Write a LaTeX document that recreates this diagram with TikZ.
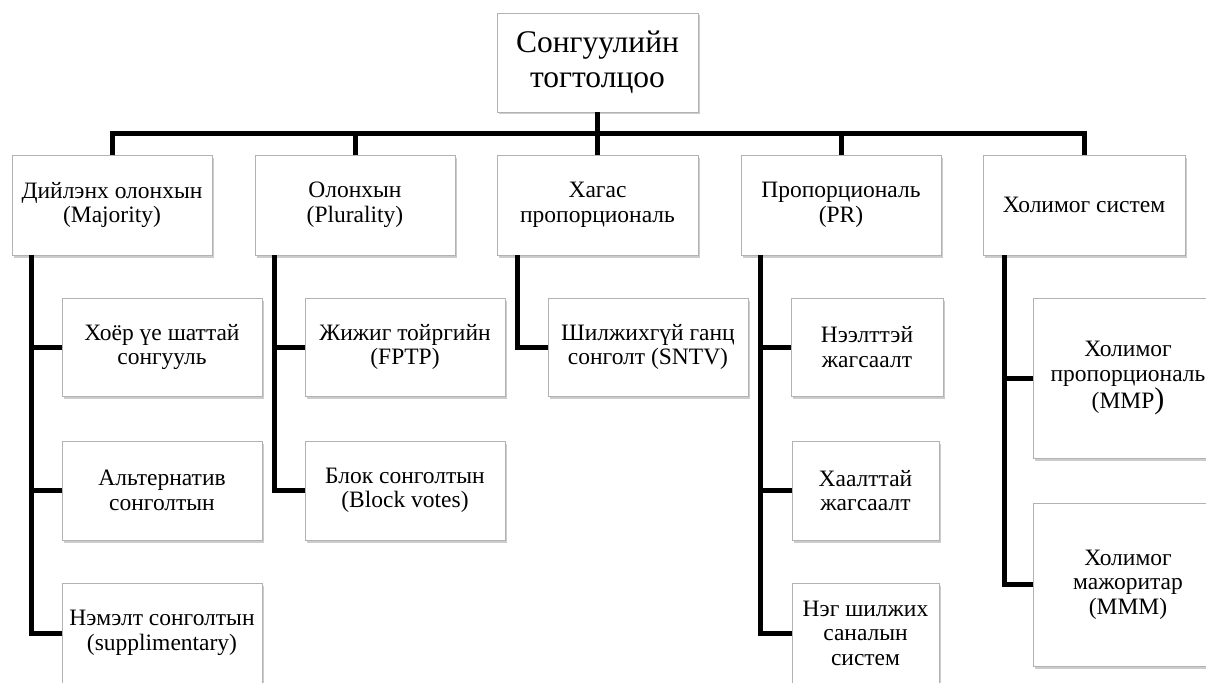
\documentclass[tikz,border=0pt]{standalone}
\usepackage{fontspec}
\setmainfont{Liberation Serif}
\usetikzlibrary{shadows,calc}
\begin{document}
\begin{tikzpicture}[x=1pt,y=-1pt,
  box/.style={draw=gray!60, line width=0.8pt, fill=white, inner sep=0pt, align=center,
    font=\fontsize{23.5}{24.5}\selectfont,
    drop shadow={shadow xshift=2pt, shadow yshift=-2.5pt, fill=black, opacity=0.2}},
  conn/.style={line width=5pt, line join=miter, black}]
\useasboundingbox (0,0) rectangle (1206,682);
\clip (0,0) rectangle (1206,682);
\fill[white] (0,0) rectangle (1206,682);
% root
\node[box, minimum width=201pt, minimum height=99pt, font=\fontsize{31.5}{35}\selectfont] (root) at (597.5,62.5) {Сонгуулийн\\тогтолцоо};
% level 1
\node[box, minimum width=200pt, minimum height=100pt] (m1) at (112,205) {Дийлэнх олонхын\\(Majority)};
\node[box, minimum width=200pt, minimum height=100pt] (m2) at (355,205) {Олонхын\\(Plurality)};
\node[box, minimum width=201pt, minimum height=100pt] (m3) at (597.5,205) {Хагас\\пропорциональ};
\node[box, minimum width=200pt, minimum height=100pt] (m4) at (841,205) {Пропорциональ\\(PR)};
\node[box, minimum width=202pt, minimum height=100pt] (m5) at (1084,205) {Холимог систем};
% bus
\coordinate (bus) at (598,133);
\draw[conn] (root.south) -- (root.south |- bus);
\draw[conn] (m1.north) |- (m5.north |- bus) -- (m5.north);
\foreach \m in {m2,m3,m4} \draw[conn] (\m.north) -- (\m.north |- bus);
% level 2
\node[box, minimum width=200pt, minimum height=98pt] (a1) at (162,347) {Хоёр үе шаттай\\сонгууль};
\node[box, minimum width=200pt, minimum height=99pt] (a2) at (162,490.5) {Альтернатив\\сонголтын};
\node[box, minimum width=200pt, minimum height=100pt] (a3) at (162,633) {Нэмэлт сонголтын\\(supplimentary)};
\node[box, minimum width=200pt, minimum height=98pt] (b1) at (405,347) {Жижиг тойргийн\\(FPTP)};
\node[box, minimum width=200pt, minimum height=99pt] (b2) at (405,490.5) {Блок сонголтын\\(Block votes)};
\node[box, minimum width=200pt, minimum height=98pt] (c1) at (648,347) {Шилжихгүй ганц\\сонголт (SNTV)};
\node[box, minimum width=152pt, minimum height=98pt] (d1) at (867,347) {Нээлттэй\\жагсаалт};
\node[box, minimum width=147pt, minimum height=99pt] (d2) at (865.5,490.5) {Хаалттай\\жагсаалт};
\node[box, minimum width=147pt, minimum height=100pt] (d3) at (865.5,633) {Нэг шилжих\\саналын\\систем};
\node[box, minimum width=190pt, minimum height=160pt] (e1) at (1128,378) {Холимог\\пропорциональ\\(MMP{\fontsize{30}{24.5}\selectfont )}};
\node[box, minimum width=190pt, minimum height=163pt] (e2) at (1128,584.5) {Холимог\\мажоритар\\(MMM)};
% trunks
\foreach \c in {a1,a2,a3} \draw[conn] ($(m1.south west)+(20,0)$) |- (\c.west);
\foreach \c in {b1,b2} \draw[conn] ($(m2.south west)+(20,0)$) |- (\c.west);
\draw[conn] ($(m3.south west)+(21,0)$) |- (c1.west);
\foreach \c in {d1,d2,d3} \draw[conn] ($(m4.south west)+(20,0)$) |- (\c.west);
\foreach \c in {e1,e2} \draw[conn] ($(m5.south west)+(22,0)$) |- (\c.west);
\end{tikzpicture}
\end{document}
